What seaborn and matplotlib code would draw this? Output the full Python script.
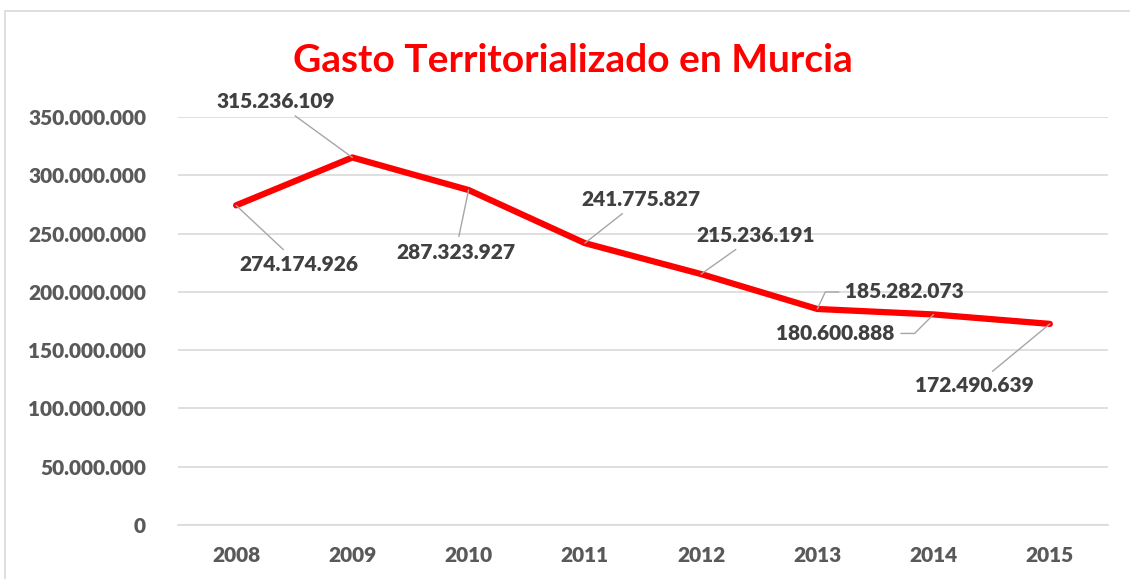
# -*- coding: utf-8 -*-
"""
Gasto territorializado en Murcia (2008-2015), gráfico de línea estilo Excel.
"""
import matplotlib
matplotlib.use("Agg")
import matplotlib.pyplot as plt
import matplotlib.ticker as mticker
import pandas as pd
import seaborn as sns

# --- datos ---
years = ["2008", "2009", "2010", "2011", "2012", "2013", "2014", "2015"]
gasto = [274174926, 315236109, 287323927, 241775827, 215236191, 185282073, 180600888, 172490639]

# posición de las etiquetas respecto al punto (píxeles) y forma de la línea guía
label_offsets = [(63, -59), (-77, 56), (-13, -62), (56, 44),
                 (55, 39), (87, 17), (-98, -19), (-75, -62)]
leader_styles = ["arc3", "arc3", "arc3", "arc3", "arc3",
                 "angle,angleA=0,angleB=65,rad=0", "angle,angleA=0,angleB=45,rad=0", "arc3"]

df = pd.DataFrame({"year": years, "gasto": gasto})

# --- estilo ---
sns.set_theme(style="white")
plt.rcParams["font.family"] = ["Lato", "DejaVu Sans"]
plt.rcParams["font.weight"] = 800

TICK_COLOR = "#595959"
LABEL_COLOR = "#404040"
GRID_COLOR = "#d9d9d9"


def fmt_es(v, pos=None):
    """Formato con punto como separador de miles."""
    return f"{int(v):,}".replace(",", ".")


fig = plt.figure(figsize=(11.3, 5.79), dpi=100)
ax = fig.add_axes([0.1575, 0.0933, 0.823, 0.7047])

sns.lineplot(data=df, x="year", y="gasto", sort=False, color="#ff0000",
             linewidth=4.5, ax=ax, solid_capstyle="round", solid_joinstyle="round")

ax.set_xlim(-0.5, len(years) - 0.5)
ax.set_ylim(0, 350_000_000)
ax.yaxis.set_major_locator(mticker.MultipleLocator(50_000_000))
ax.yaxis.set_major_formatter(mticker.FuncFormatter(fmt_es))
ax.grid(axis="y", color=GRID_COLOR, linewidth=1.2)
ax.set_axisbelow(True)
for side in ["top", "right", "left"]:
    ax.spines[side].set_visible(False)
ax.spines["bottom"].set_color(GRID_COLOR)
ax.spines["bottom"].set_linewidth(1.2)
ax.tick_params(axis="both", length=0, labelsize=15, labelcolor=TICK_COLOR)
ax.tick_params(axis="y", pad=23)
ax.tick_params(axis="x", pad=15)
ax.set_xlabel("")
ax.set_ylabel("")

# etiquetas de datos con líneas guía
for i, (v, off, cs) in enumerate(zip(gasto, label_offsets, leader_styles)):
    ax.annotate(fmt_es(v), xy=(i, v), xytext=off, textcoords="offset pixels",
                ha="center", va="center", fontsize=15, fontweight=800,
                color=LABEL_COLOR, annotation_clip=False,
                arrowprops=dict(arrowstyle="-", color="#a6a6a6", lw=1.0,
                                shrinkA=2, shrinkB=0, connectionstyle=cs))

fig.text(0.507, 0.895, "Gasto Territorializado en Murcia", ha="center", va="center",
         fontsize=28, fontweight="bold", color="#ff0000")

# marco del gráfico
fig.add_artist(plt.Rectangle((5 / 1130, -0.05), 1.2, 1 - 11 / 579 + 0.05,
                             transform=fig.transFigure, fill=False,
                             edgecolor=GRID_COLOR, linewidth=1.2))

fig.savefig("out.png", dpi=100)
